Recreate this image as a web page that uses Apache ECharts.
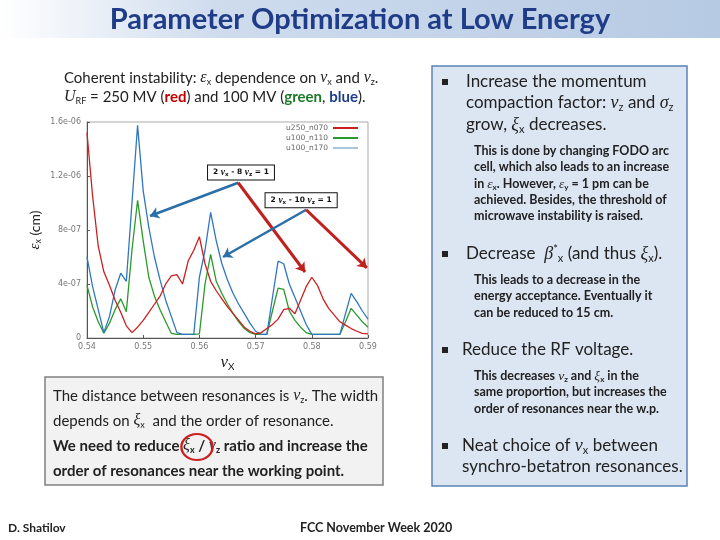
<!DOCTYPE html>
<html>
<head>
<meta charset="utf-8">
<script src="https://cdn.jsdelivr.net/npm/echarts@6/dist/echarts.min.js"></script>
<style>
  html, body { margin: 0; padding: 0; background: #fff; }
  #main { width: 720px; height: 540px; }
</style>
</head>
<body>
<div id="main"></div>
<script>
/** data (emittance in units of 1e-6 cm) **/
var nuX = [0.540, 0.541, 0.542, 0.543, 0.544, 0.545, 0.546, 0.547, 0.548, 0.549,
           0.550, 0.551, 0.552, 0.553, 0.554, 0.555, 0.556, 0.557, 0.558, 0.559,
           0.560, 0.561, 0.562, 0.563, 0.564, 0.565, 0.566, 0.567, 0.568, 0.569,
           0.570, 0.571, 0.572, 0.573, 0.574, 0.575, 0.576, 0.577, 0.578, 0.579,
           0.580, 0.581, 0.582, 0.583, 0.584, 0.585, 0.586, 0.587, 0.588, 0.589, 0.590];
var u250_n070 = [1.52, 1.05, 0.68, 0.49, 0.39, 0.28, 0.19, 0.09, 0.04, 0.08,
                 0.13, 0.19, 0.25, 0.31, 0.40, 0.46, 0.47, 0.40, 0.57, 0.65,
                 0.75, 0.55, 0.42, 0.35, 0.29, 0.23, 0.18, 0.13, 0.08, 0.05,
                 0.03, 0.04, 0.07, 0.10, 0.14, 0.21, 0.22, 0.18, 0.28, 0.38,
                 0.45, 0.39, 0.29, 0.22, 0.17, 0.12, 0.095, 0.07, 0.05, 0.035, 0.03];
var u100_n110 = [0.39, 0.23, 0.12, 0.035, 0.11, 0.21, 0.29, 0.195, 0.65, 1.02,
                 0.72, 0.45, 0.31, 0.21, 0.12, 0.035, 0.027, 0.027, 0.027, 0.027,
                 0.03, 0.40, 0.62, 0.42, 0.33, 0.25, 0.18, 0.12, 0.07, 0.04,
                 0.027, 0.027, 0.027, 0.20, 0.37, 0.36, 0.20, 0.13, 0.08, 0.04,
                 0.027, 0.027, 0.027, 0.027, 0.027, 0.027, 0.12, 0.22, 0.17, 0.12, 0.08];
var u100_n170 = [0.60, 0.38, 0.21, 0.04, 0.16, 0.355, 0.48, 0.42, 1.0, 1.575,
                 1.09, 0.82, 0.60, 0.43, 0.28, 0.16, 0.04, 0.027, 0.027, 0.027,
                 0.45, 0.65, 0.93, 0.72, 0.55, 0.43, 0.33, 0.25, 0.18, 0.11,
                 0.05, 0.027, 0.027, 0.30, 0.57, 0.55, 0.40, 0.30, 0.20, 0.10,
                 0.027, 0.027, 0.027, 0.027, 0.027, 0.027, 0.18, 0.33, 0.27, 0.20, 0.14];
var seriesNames = ["u250_n070", "u100_n110", "u100_n170"];
var yTickLabels = ["0", "4e-07", "8e-07", "1.2e-06", "1.6e-06"];

// resonance annotations (in data coordinates)
var resonanceText = ["2 {g|ν}{s|x} - 8 {g|ν}{s|z} = 1", "2 {g|ν}{s|x} - 10 {g|ν}{s|z} = 1"];
var resonancePos = [[0.5674, 1.226], [0.5781, 1.02]];
var arrowFrom = [[0.5669, 1.15], [0.5669, 1.15], [0.5790, 0.95], [0.5790, 0.95]];
var arrowTo = [[0.5512, 0.904], [0.5788, 0.489], [0.5642, 0.60], [0.5898, 0.519]];
var arrowColor = ["#2a6fa8", "#c0201e", "#2a6fa8", "#c0201e"];

var BODY = "Lato";
var MATH = "Liberation Serif";

function pairs(ys) {
  return nuX.map(function (x, i) { return [x, ys[i]]; });
}

function rich(size, weight, color) {
  var sub = Math.round(size * 0.62);
  return {
    g: { fontFamily: MATH, fontStyle: "italic", fontSize: size + 1, fontWeight: "normal", fill: color },
    s: { fontFamily: BODY, fontSize: sub, fontWeight: weight, fill: color, padding: [Math.round(size * 0.5), 0, 0, 0] },
    sup: { fontFamily: BODY, fontSize: sub, fontWeight: weight, fill: color, padding: [0, 0, Math.round(size * 0.5), 0] },
    red: { fontFamily: BODY, fontSize: size, fontWeight: "bold", fill: "#c00000" },
    grn: { fontFamily: BODY, fontSize: size, fontWeight: "bold", fill: "#1d7a2a" },
    blu: { fontFamily: BODY, fontSize: size, fontWeight: "bold", fill: "#1f3c88" }
  };
}

function txt(x, y, text, size, weight, color) {
  weight = weight || "normal";
  color = color || "#222";
  return {
    type: "text", x: x, y: y, silent: true, z: 10,
    style: {
      text: text, fontFamily: BODY, fontSize: size, fontWeight: weight,
      fill: color, verticalAlign: "middle", rich: rich(size, weight, color)
    }
  };
}

function bullet(x, y) {
  return { type: "rect", silent: true, z: 10, shape: { x: x, y: y - 3, width: 6, height: 6 }, style: { fill: "#222" } };
}

var dom = document.getElementById("main");
var chart = echarts.init(dom, null, { renderer: "canvas" });

var arrowLines = arrowFrom.map(function (p, i) {
  return [
    { coord: p, lineStyle: { color: arrowColor[i], width: arrowColor[i] === "#c0201e" ? 3 : 2.5, type: "solid" } },
    { coord: arrowTo[i] }
  ];
});

var boxPoints = resonancePos.map(function (p, i) {
  return { coord: p, value: resonanceText[i] };
});

var graphics = [
  // title bar
  {
    type: "rect", silent: true, shape: { x: 0, y: 0, width: 720, height: 38 },
    style: {
      fill: new echarts.graphic.LinearGradient(0, 0, 1, 0, [
        { offset: 0, color: "#ffffff" },
        { offset: 0.3, color: "#cfdcee" },
        { offset: 1, color: "#b6cae3" }
      ])
    }
  },
  {
    type: "text", x: 360, y: 20, silent: true,
    style: { text: "Parameter Optimization at Low Energy", fontFamily: BODY, fontSize: 29, fontWeight: "bold", fill: "#1f3c88", align: "center", verticalAlign: "middle" }
  },
  // right panel
  { type: "rect", silent: true, shape: { x: 432, y: 66, width: 255, height: 420 }, style: { fill: "#dce6f2", stroke: "#5a84b5", lineWidth: 1.5 } },
  // bottom-left box
  { type: "rect", silent: true, shape: { x: 45, y: 377, width: 338, height: 108 }, style: { fill: "#f2f2f2", stroke: "#808080", lineWidth: 1.5 } },
  // chart caption
  txt(64, 78, "Coherent instability: {g|ε}{s|x} dependence on {g|ν}{s|x} and {g|ν}{s|z}.", 15),
  txt(64, 97, "{g|U}{s|RF} = 250 MV ({red|red}) and 100 MV ({grn|green}, {blu|blue}).", 15),
  // right panel text
  bullet(442, 82),
  txt(466, 82, "Increase the momentum", 17),
  txt(466, 103, "compaction factor: {g|ν}{s|z} and {g|σ}{s|z}", 17),
  txt(466, 125, "grow, {g|ξ}{s|x} decreases.", 17),
  txt(474, 151, "This is done by changing FODO arc", 12.5, "bold"),
  txt(474, 167, "cell, which also leads to an increase", 12.5, "bold"),
  txt(474, 184, "in {g|ε}{s|x}. However, {g|ε}{s|y} = 1 pm can be", 12.5, "bold"),
  txt(474, 200, "achieved. Besides, the threshold of", 12.5, "bold"),
  txt(474, 216, "microwave instability is raised.", 12.5, "bold"),
  bullet(442, 254),
  txt(466, 254, "Decrease  {g|β}{sup|*}{s|x} (and thus {g|ξ}{s|x}).", 17),
  txt(474, 280, "This leads to a decrease in the", 12.5, "bold"),
  txt(474, 296, "energy acceptance. Eventually it", 12.5, "bold"),
  txt(474, 313, "can be reduced to 15 cm.", 12.5, "bold"),
  bullet(442, 350),
  txt(462, 350, "Reduce the RF voltage.", 17),
  txt(474, 376, "This decreases {g|ν}{s|z} and {g|ξ}{s|x} in the", 12.5, "bold"),
  txt(474, 392, "same proportion, but increases the", 12.5, "bold"),
  txt(474, 409, "order of resonances near the w.p.", 12.5, "bold"),
  bullet(442, 446),
  txt(462, 446, "Neat choice of {g|ν}{s|x} between", 17),
  txt(462, 467, "synchro-betatron resonances.", 17),
  // bottom-left box text
  txt(53, 396, "The distance between resonances is {g|ν}{s|z}. The width", 15),
  txt(53, 421, "depends on {g|ξ}{s|x}  and the order of resonance.", 15),
  txt(53, 446, "We need to reduce {g|ξ}{s|x} / {g|ν}{s|z} ratio and increase the", 15, "bold"),
  txt(53, 471, "order of resonances near the working point.", 15, "bold"),
  { type: "circle", silent: true, z: 11, x: 197, y: 447, scaleX: 1.2, shape: { cx: 0, cy: 0, r: 13 }, style: { fill: "none", stroke: "#cc1f1f", lineWidth: 2 } },
  // footer
  txt(8, 528, "D. Shatilov", 12, "bold"),
  txt(300, 528, "FCC November Week 2020", 12.5, "bold")
];

var option = {
  animation: false,
  backgroundColor: "#ffffff",
  graphic: graphics,
  legend: {
    data: [
      { name: seriesNames[0] },
      { name: seriesNames[1] },
      { name: seriesNames[2], itemStyle: { color: "#a9c4dd" } }
    ],
    orient: "vertical",
    align: "right",
    icon: "rect",
    top: 124,
    right: 362,
    padding: 0,
    itemWidth: 25,
    itemHeight: 2,
    itemGap: 2,
    textStyle: { fontFamily: "DejaVu Sans", fontSize: 7.5, color: "#666" }
  },
  grid: {
    left: 87,
    right: 352,
    top: 122,
    bottom: 202,
    show: true,
    borderColor: "#aaa",
    borderWidth: 1
  },
  xAxis: {
    type: "value",
    min: 0.54,
    max: 0.59,
    interval: 0.01,
    name: "{g|ν}{s|X}",
    nameLocation: "middle",
    nameGap: 16,
    nameTextStyle: {
      rich: {
        g: { fontFamily: MATH, fontStyle: "italic", fontSize: 17, color: "#222" },
        s: { fontFamily: BODY, fontSize: 10, color: "#222", padding: [8, 0, 0, 0] }
      }
    },
    axisLine: { onZero: false, lineStyle: { color: "#555" } },
    axisTick: { inside: true, length: 3, lineStyle: { color: "#555" } },
    splitLine: { show: false },
    axisLabel: {
      fontFamily: "DejaVu Sans", fontSize: 8, color: "#777", margin: 5,
      formatter: function (v) { return v.toFixed(2); }
    }
  },
  yAxis: {
    type: "value",
    min: 0,
    max: 1.6,
    interval: 0.4,
    name: "{g|ε}{s|x} (cm)",
    nameLocation: "middle",
    nameGap: 44,
    nameTextStyle: {
      fontFamily: BODY, fontSize: 14, color: "#222",
      rich: {
        g: { fontFamily: MATH, fontStyle: "italic", fontSize: 15, color: "#222" },
        s: { fontFamily: BODY, fontSize: 9, color: "#222", padding: [7, 0, 0, 0] }
      }
    },
    axisLine: { show: true, lineStyle: { color: "#555" } },
    axisTick: { show: true, inside: true, length: 3, lineStyle: { color: "#555" } },
    splitLine: { show: false },
    axisLabel: {
      fontFamily: "DejaVu Sans", fontSize: 8, color: "#777", margin: 6,
      formatter: function (v) { return yTickLabels[Math.round(v / 0.4)]; }
    }
  },
  series: [
    {
      name: seriesNames[0],
      type: "line",
      color: "#cc2020",
      symbol: "none",
      lineStyle: { width: 1.3 },
      data: pairs(u250_n070),
      z: 3,
      markLine: {
        silent: true,
        symbol: ["none", "arrow"],
        symbolSize: 9,
        label: { show: false },
        data: arrowLines
      },
      markPoint: {
        silent: true,
        symbol: "rect",
        symbolSize: 0,
        label: {
          show: true,
          position: "inside",
          formatter: function (p) { return p.value; },
          backgroundColor: "#fff",
          borderColor: "#111",
          borderWidth: 1,
          padding: [2, 5],
          fontFamily: "DejaVu Sans",
          fontSize: 7.5,
          fontWeight: "bold",
          color: "#111",
          rich: {
            g: { fontFamily: MATH, fontStyle: "italic", fontSize: 9.5, color: "#111" },
            s: { fontFamily: "DejaVu Sans", fontSize: 5.5, color: "#111", padding: [4, 0, 0, 0] }
          }
        },
        data: boxPoints
      }
    },
    {
      name: seriesNames[1],
      type: "line",
      color: "#2a9a2a",
      symbol: "none",
      lineStyle: { width: 1.3 },
      data: pairs(u100_n110),
      z: 2
    },
    {
      name: seriesNames[2],
      type: "line",
      color: "#2f77c0",
      symbol: "none",
      lineStyle: { width: 1.3 },
      data: pairs(u100_n170),
      z: 2
    }
  ]
};

if (option && typeof option === "object") {
  chart.setOption(option);
}

window.addEventListener("resize", chart.resize);
</script>
</body>
</html>
